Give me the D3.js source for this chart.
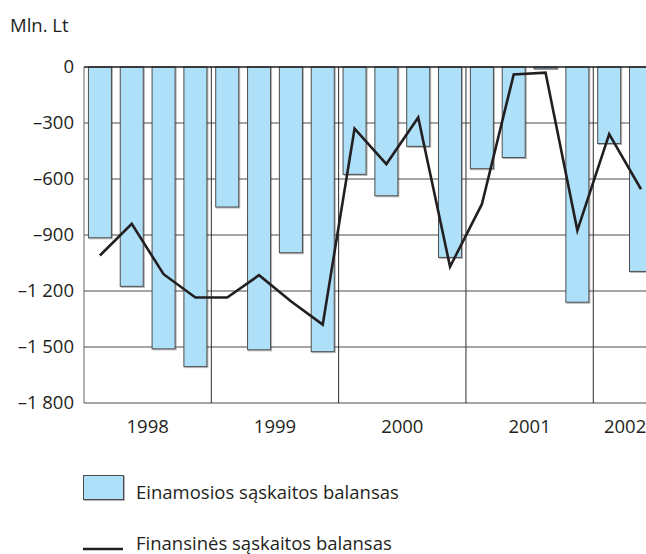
<!DOCTYPE html>
<html>
<head>
<meta charset="utf-8">
<script src="https://cdn.jsdelivr.net/npm/d3@7"></script>
<style>
    body { margin: 0; background: #fff; }
    text { font-family: "Open Sans", Lato, sans-serif; fill: #231f20; }
</style>
</head>
<body>
<div id="chart"></div>
<script>
// quarters 1998 I .. 2002 II
var years = ['1998', '1999', '2000', '2001', '2002'];
var quarters = ['1998 I', '1998 II', '1998 III', '1998 IV',
                '1999 I', '1999 II', '1999 III', '1999 IV',
                '2000 I', '2000 II', '2000 III', '2000 IV',
                '2001 I', '2001 II', '2001 III', '2001 IV',
                '2002 I', '2002 II'];
var currentAccount = [-915, -1175, -1510, -1605, -750, -1515, -995, -1525,
                      -575, -690, -425, -1020, -545, -485, -10, -1260, -410, -1095];
var financialAccount = [-1010, -840, -1110, -1235, -1235, -1115, -1255, -1380,
                        -330, -520, -270, -1070, -735, -40, -30, -875, -360, -655];
var yTicks = [0, -300, -600, -900, -1200, -1500, -1800];
var legendLabels = ['Einamosios sąskaitos balansas', 'Finansinės sąskaitos balansas'];

var width = 646, height = 554;
var plotLeft = 84, plotTop = 67, plotBottom = 403;
var step = 31.83;  // one quarter, the plot runs on past the window edge
var fontSize = '18.5px';

var svg = d3.select('#chart').append('svg')
    .attr('width', width)
    .attr('height', height);

// soft shadow under the bars
var filter = svg.append('defs').append('filter')
    .attr('id', 'shadow')
    .attr('x', -0.2).attr('y', -0.2)
    .attr('width', 1.5).attr('height', 1.5);
filter.append('feGaussianBlur')
    .attr('in', 'SourceAlpha')
    .attr('stdDeviation', 0.6)
    .attr('result', 'blur');
filter.append('feComponentTransfer')
    .attr('in', 'blur')
    .attr('result', 'faded')
  .append('feFuncA')
    .attr('type', 'linear')
    .attr('slope', 0.3);
filter.append('feOffset')
    .attr('in', 'faded')
    .attr('dx', 1.2).attr('dy', 1.2)
    .attr('result', 'offsetBlur');
var merge = filter.append('feMerge');
merge.append('feMergeNode').attr('in', 'offsetBlur');
merge.append('feMergeNode').attr('in', 'SourceGraphic');

var x = d3.scaleBand()
    .domain(quarters)
    .range([plotLeft, plotLeft + quarters.length * step])
    .paddingInner(0.277)
    .paddingOuter(0.1385);

var y = d3.scaleLinear()
    .domain([-1800, 0])
    .range([plotBottom, plotTop]);

// "−1 200" style: space as thousands separator, en dash for minus
var fmt = function (d) {
    return d3.format(',')(d).replace(/,/g, ' ').replace('\u2212', '\u2013');
};

// unit label
svg.append('text')
    .attr('x', 10)
    .attr('y', 32)
    .style('font-size', fontSize)
    .text('Mln. Lt');

// horizontal grid
svg.append('g')
    .selectAll('line')
    .data(yTicks.filter(function (d) { return d !== 0; }))
  .enter().append('line')
    .attr('x1', plotLeft)
    .attr('x2', width)
    .attr('y1', function (d) { return y(d); })
    .attr('y2', function (d) { return y(d); })
    .attr('stroke', '#4a4a4a')
    .attr('stroke-width', 1);

// y tick labels
svg.append('g')
    .selectAll('text')
    .data(yTicks)
  .enter().append('text')
    .attr('x', 74)
    .attr('y', function (d) { return y(d); })
    .attr('dy', '0.35em')
    .attr('text-anchor', 'end')
    .style('font-size', fontSize)
    .text(fmt);

// current account bars
svg.append('g')
    .selectAll('rect')
    .data(currentAccount)
  .enter().append('rect')
    .attr('x', function (d, i) { return x(quarters[i]); })
    .attr('y', y(0))
    .attr('width', x.bandwidth())
    .attr('height', function (d) { return y(d) - y(0); })
    .attr('fill', '#aee1f9')
    .attr('stroke', '#4d4d4d')
    .attr('stroke-width', 1)
    .attr('filter', 'url(#shadow)');

// year separators
var sep = function (i) { return plotLeft + i * x.step(); };
svg.append('g')
    .selectAll('line')
    .data(d3.range(0, quarters.length + 1, 4))
  .enter().append('line')
    .attr('x1', sep)
    .attr('x2', sep)
    .attr('y1', y(0))
    .attr('y2', y(-1800))
    .attr('stroke', function (d) { return d === 0 ? '#666' : '#2b2b2b'; })
    .attr('stroke-width', 1);

// zero line
svg.append('line')
    .attr('x1', plotLeft).attr('x2', width)
    .attr('y1', y(0)).attr('y2', y(0))
    .attr('stroke', '#1a1a1a')
    .attr('stroke-width', 1.3);

// year labels, centred on the quarters shown for that year
svg.append('g')
    .selectAll('text')
    .data(years)
  .enter().append('text')
    .attr('x', function (yr) {
        var qs = quarters.filter(function (q) { return q.indexOf(yr) === 0; });
        var a = x(qs[0]) + x.bandwidth() / 2;
        var b = x(qs[qs.length - 1]) + x.bandwidth() / 2;
        return (a + b) / 2;
    })
    .attr('y', 433)
    .attr('text-anchor', 'middle')
    .style('font-size', fontSize)
    .text(function (d) { return d; });

// financial account line
var line = d3.line()
    .x(function (d, i) { return x(quarters[i]) + x.bandwidth() / 2; })
    .y(function (d) { return y(d); });

svg.append('path')
    .datum(financialAccount)
    .attr('d', line)
    .attr('fill', 'none')
    .attr('stroke', '#231f20')
    .attr('stroke-width', 2.6)
    .attr('stroke-linejoin', 'miter');

// legend
var legend = svg.append('g');
legend.append('rect')
    .attr('x', 83.5).attr('y', 475.5)
    .attr('width', 40).attr('height', 24)
    .attr('fill', '#aee1f9')
    .attr('stroke', '#4d4d4d')
    .attr('filter', 'url(#shadow)');
legend.append('text')
    .attr('x', 136).attr('y', 499)
    .style('font-size', fontSize)
    .text(legendLabels[0]);
legend.append('line')
    .attr('x1', 83).attr('x2', 123)
    .attr('y1', 549).attr('y2', 549)
    .attr('stroke', '#231f20')
    .attr('stroke-width', 2.6);
legend.append('text')
    .attr('x', 136).attr('y', 550)
    .style('font-size', fontSize)
    .text(legendLabels[1]);
</script>
</body>
</html>
